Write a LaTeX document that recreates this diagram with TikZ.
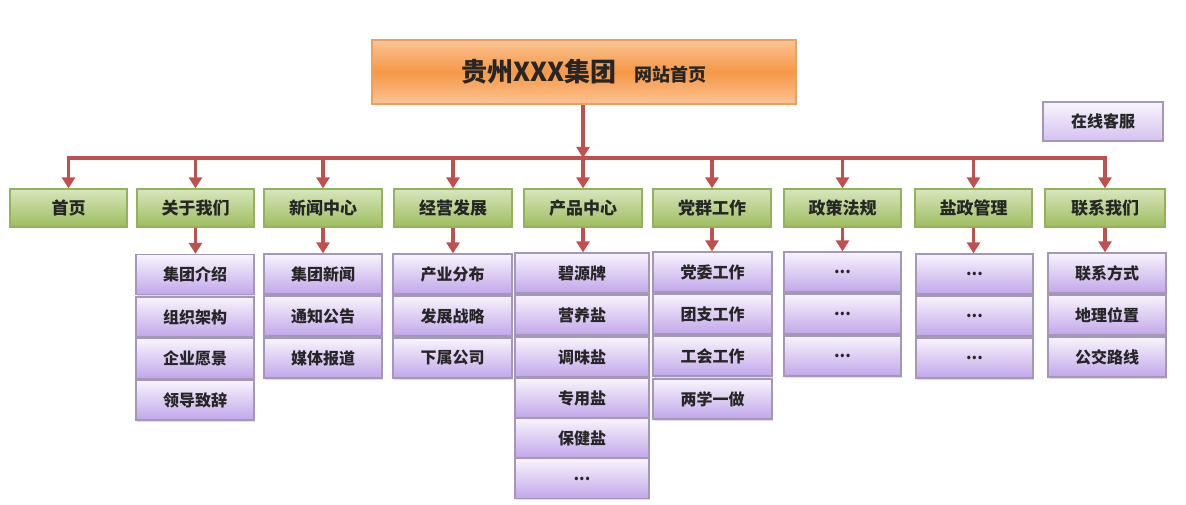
\documentclass[tikz,border=0pt]{standalone}
\usepackage{fontspec}
\setmainfont{Noto Sans CJK SC}
\usetikzlibrary{arrows.meta,shadows}
\definecolor{linered}{HTML}{C0504D}
\definecolor{orgA}{HTML}{FBC394}
\definecolor{orgB}{HTML}{F69845}
\definecolor{orgE}{HTML}{E9A062}
\definecolor{grnA}{HTML}{D8E6BD}
\definecolor{grnB}{HTML}{9DBD5E}
\definecolor{grnE}{HTML}{93B35A}
\definecolor{purA}{HTML}{F8F5FC}
\definecolor{purB}{HTML}{C2A6EA}
\definecolor{purE}{HTML}{A597B8}
\tikzset{
  x=1pt,y=-1pt,
  boxbase/.style={rectangle,inner sep=0pt,font=\bfseries,text=black!85,
    drop shadow={opacity=0.25,shadow xshift=1.2pt,shadow yshift=-1.5pt}},
  topbox/.style={boxbase,draw=orgE,line width=1.2pt,top color=orgA,bottom color=orgA,middle color=orgB,
    minimum width=424pt,minimum height=64pt},
  gbox/.style={boxbase,draw=grnE,line width=1.2pt,top color=grnA,bottom color=grnB,
    minimum width=117pt,minimum height=38pt,font=\bfseries\fontsize{17}{17}\selectfont},
  pbox/.style={boxbase,draw=purE,line width=1.2pt,top color=purA,bottom color=purB,
    minimum width=118pt,minimum height=40pt,font=\bfseries\fontsize{16}{16}\selectfont},
  conn/.style={draw=linered,line width=3.8pt,-{Triangle[width=13pt,length=11pt]}},
  busline/.style={draw=linered,line width=3.8pt,line cap=rect},
}
\begin{document}
\begin{tikzpicture}
\useasboundingbox (0,0) rectangle (1186,505);
% top
\node[topbox] (top) at (584,72) {\fontsize{26}{26}\selectfont 贵州XXX集团\hspace{18pt}\fontsize{18}{18}\selectfont 网站首页};
\node[pbox,minimum width=120pt,minimum height=39pt,bottom color=purB!70] (kf) at (1103,121.5) {在线客服};
% level 1
\node[gbox] (g1) at (68.5,208) {首页};
\node[gbox] (g2) at (195.5,208) {关于我们};
\node[gbox,minimum width=118pt] (g3) at (323,208) {新闻中心};
\node[gbox,minimum width=118pt] (g4) at (453,208) {经营发展};
\node[gbox,minimum width=118pt] (g5) at (583,208) {产品中心};
\node[gbox,minimum width=118pt] (g6) at (712,208) {党群工作};
\node[gbox] (g7) at (842.5,208) {政策法规};
\node[gbox] (g8) at (973.5,208) {盐政管理};
\node[gbox,minimum width=120pt] (g9) at (1105,208) {联系我们};
% level 2
\node[pbox] (a1) at (195,274.5) {集团介绍};
\node[pbox] (a2) at (195,317) {组织架构};
\node[pbox] (a3) at (195,358.5) {企业愿景};
\node[pbox] (a4) at (195,400) {领导致辞};
\node[pbox] (b1) at (323,274) {集团新闻};
\node[pbox] (b2) at (323,316) {通知公告};
\node[pbox] (b3) at (323,358) {媒体报道};
\node[pbox,minimum width=119pt] (c1) at (452.5,274) {产业分布};
\node[pbox,minimum width=119pt] (c2) at (452.5,316) {发展战略};
\node[pbox,minimum width=119pt] (c3) at (452.5,358) {下属公司};
\node[pbox,minimum width=134pt] (d1) at (582,273) {碧源牌};
\node[pbox,minimum width=134pt] (d2) at (582,315) {营养盐};
\node[pbox,minimum width=134pt] (d3) at (582,357) {调味盐};
\node[pbox,minimum width=134pt] (d4) at (582,398) {专用盐};
\node[pbox,minimum width=134pt] (d5) at (582,438) {保健盐};
\node[pbox,minimum width=134pt] (d6) at (582,478.5) {...};
\node[pbox,minimum width=119pt] (e1) at (712.5,272) {党委工作};
\node[pbox,minimum width=119pt] (e2) at (712.5,314) {团支工作};
\node[pbox,minimum width=119pt] (e3) at (712.5,356) {工会工作};
\node[pbox,minimum width=119pt] (e4) at (712.5,399) {两学一做};
\node[pbox,minimum width=117pt] (f1) at (842.5,272) {...};
\node[pbox,minimum width=117pt] (f2) at (842.5,314) {...};
\node[pbox,minimum width=117pt] (f3) at (842.5,356) {...};
\node[pbox,minimum width=117pt] (h1) at (974.5,274) {...};
\node[pbox,minimum width=117pt] (h2) at (974.5,316) {...};
\node[pbox,minimum width=117pt] (h3) at (974.5,358) {...};
\node[pbox] (k1) at (1107,273) {联系方式};
\node[pbox] (k2) at (1107,315) {地理位置};
\node[pbox] (k3) at (1107,357) {公交路线};
% connectors
\coordinate (bus) at (583,158);
\draw[busline] (bus -| g1) -- (bus -| g9);
\draw[conn] (top.south -| bus) -- (bus);
\foreach \g in {g1,g2,g3,g4,g5,g6,g7,g8,g9}{
  \draw[conn] (bus -| \g) -- (\g.north);
}
\draw[conn] (g2.south) -- (g2.south |- a1.north);
\draw[conn] (g3.south) -- (g3.south |- b1.north);
\draw[conn] (g4.south) -- (g4.south |- c1.north);
\draw[conn] (g5.south) -- (g5.south |- d1.north);
\draw[conn] (g6.south) -- (g6.south |- e1.north);
\draw[conn] (g7.south) -- (g7.south |- f1.north);
\draw[conn] (g8.south) -- (g8.south |- h1.north);
\draw[conn] (g9.south) -- (g9.south |- k1.north);
\end{tikzpicture}
\end{document}
